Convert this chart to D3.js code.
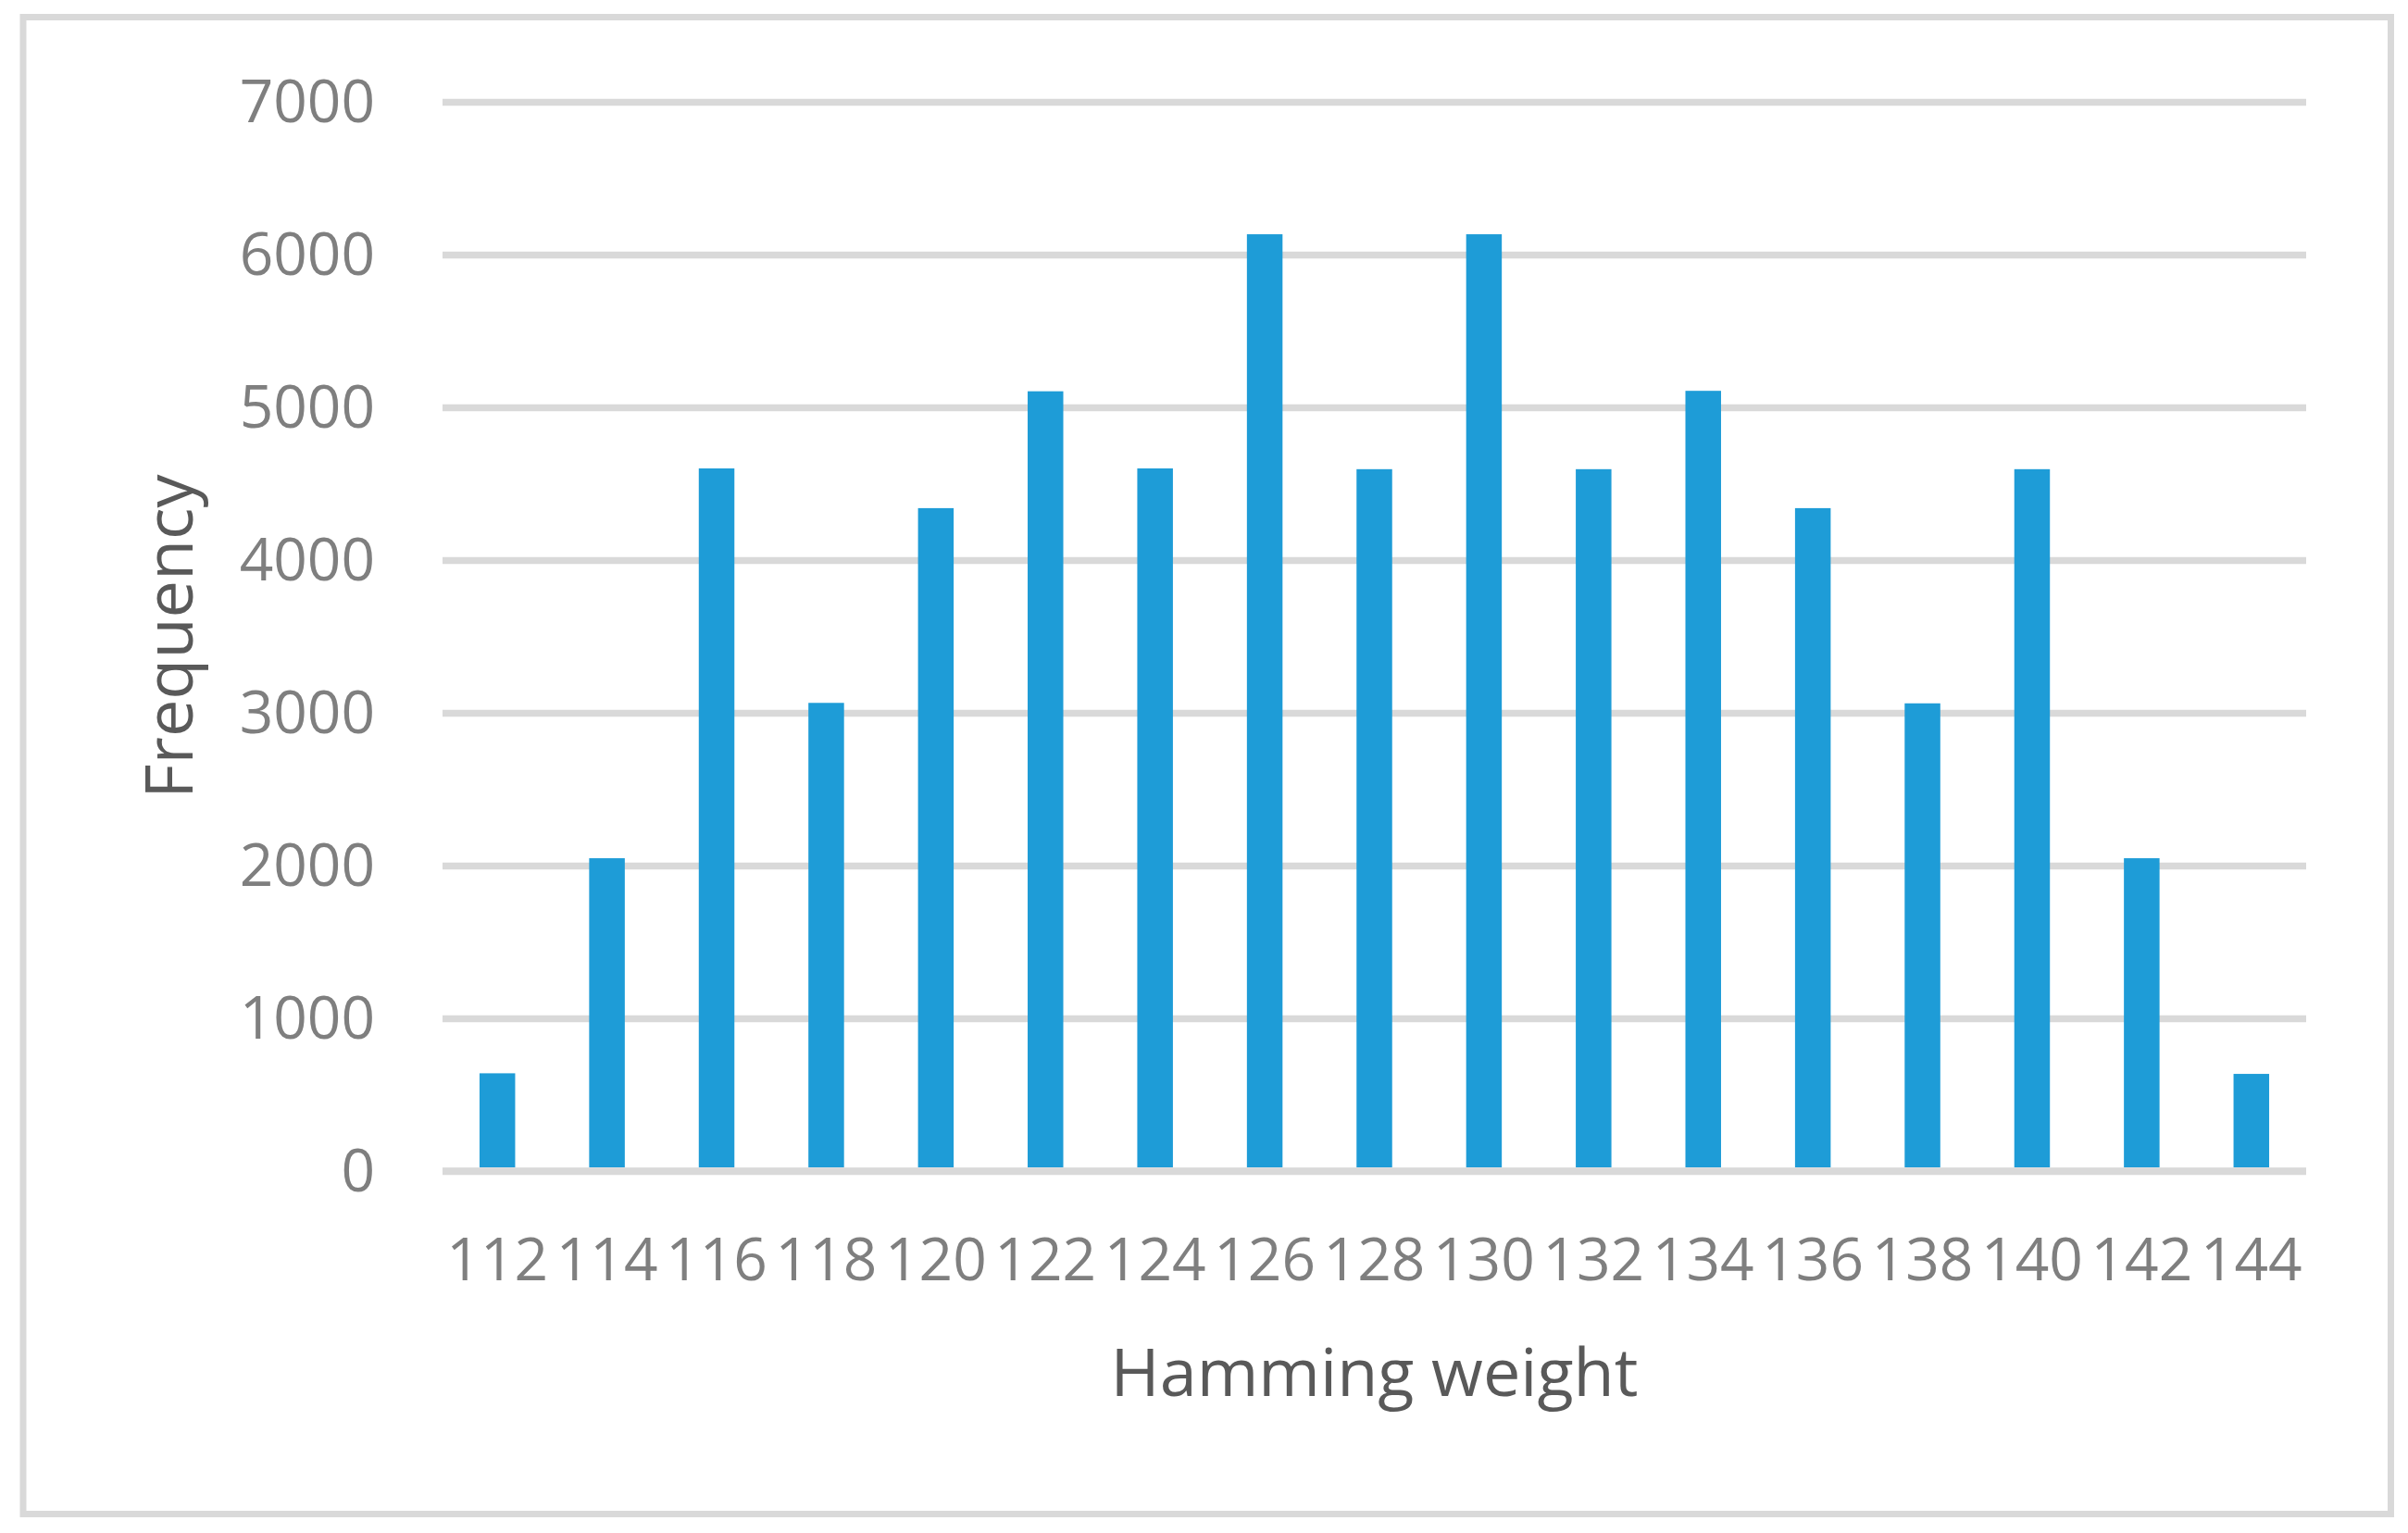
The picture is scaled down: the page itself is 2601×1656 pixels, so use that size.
<!DOCTYPE html>
<html>
<head>
<meta charset="utf-8">
<script src="https://cdn.jsdelivr.net/npm/d3@7"></script>
<style>
  body { margin: 0; background: #fff; }
  svg { display: block; }
  svg text { font-family: "Open Sans", sans-serif; }
  .tick text { fill: #7f7f7f; font-size: 64px; }
  .axis-title { fill: #595959; font-size: 72px; }
</style>
</head>
<body>
<svg width="2601" height="1656"></svg>
<script>
const weights = [112, 114, 116, 118, 120, 122, 124, 126, 128, 130, 132, 134, 136, 138, 140, 142, 144];
const frequency = [640, 2048, 4600, 3065, 4340, 5105, 4600, 6133, 4595, 6133, 4595, 5108, 4340, 3062, 4595, 2048, 636];
const yTicks = [0, 1000, 2000, 3000, 4000, 5000, 6000, 7000];

const svg = d3.select("svg"),
      margin = { top: 110, right: 110, bottom: 391, left: 478 },
      width = +svg.attr("width") - margin.left - margin.right,
      height = +svg.attr("height") - margin.top - margin.bottom;

// outer chart frame
svg.append("rect")
    .attr("x", 25).attr("y", 18.5)
    .attr("width", 2557.5).attr("height", 1617)
    .attr("fill", "none")
    .attr("stroke", "#d9d9d9")
    .attr("stroke-width", 7);

const xScale = d3.scaleBand().domain(weights).range([0, width])
    .paddingInner(0.675).paddingOuter(0.3375);
const yScale = d3.scaleLinear().domain([0, 7000]).range([height, 0]);

const g = svg.append("g").attr("transform", `translate(${margin.left},${margin.top})`);

// gridlines + y labels
const yAxis = g.append("g")
    .call(d3.axisLeft(yScale).tickValues(yTicks).tickSize(-width).tickPadding(73).tickFormat(d3.format("d")))
    .attr("font-family", null).attr("font-size", null);
yAxis.select(".domain").remove();
yAxis.selectAll(".tick line").attr("stroke", "#d9d9d9").attr("stroke-width", 7.5);
yAxis.selectAll(".tick text").attr("dy", "0.34em");

g.selectAll(".bar")
    .data(weights)
    .join("rect")
    .attr("class", "bar")
    .attr("x", (d) => xScale(d))
    .attr("width", xScale.bandwidth())
    .attr("y", (d, i) => yScale(frequency[i]))
    .attr("height", (d, i) => yScale(0) - yScale(frequency[i]) - 4)
    .attr("fill", "#1e9cd7");

// baseline drawn over bars
g.append("line")
    .attr("x1", 0).attr("x2", width)
    .attr("y1", yScale(0)).attr("y2", yScale(0))
    .attr("stroke", "#d9d9d9").attr("stroke-width", 7.5);

const xAxis = g.append("g").attr("transform", `translate(0,${height})`)
    .call(d3.axisBottom(xScale).tickSize(0).tickPadding(118))
    .attr("font-family", null).attr("font-size", null);
xAxis.select(".domain").remove();
xAxis.selectAll(".tick text").attr("dy", "0");

g.append("text")
    .attr("class", "axis-title")
    .attr("x", width / 2)
    .attr("y", height + 243)
    .style("text-anchor", "middle")
    .text("Hamming weight");

g.append("text")
    .attr("class", "axis-title")
    .attr("transform", "rotate(-90)")
    .attr("x", -height / 2)
    .attr("y", 208 - margin.left)
    .style("text-anchor", "middle")
    .text("Frequency");
</script>
</body>
</html>
